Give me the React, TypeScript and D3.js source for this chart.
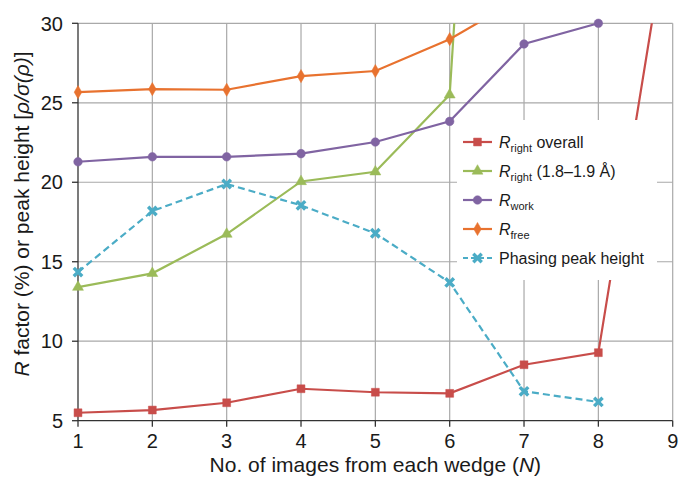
import { useEffect, useRef } from 'react'
import * as d3 from 'd3'

// N values (images per wedge)
const nValues = [1, 2, 3, 4, 5, 6, 7, 8, 9]
const xTicks = [1, 2, 3, 4, 5, 6, 7, 8, 9]
const yTicks = [5, 10, 15, 20, 25, 30]

// series values (points past the top run off the chart)
const rRightOverall = [5.5, 5.67, 6.13, 7.01, 6.79, 6.72, 8.52, 9.28, 38.1]
const rRightShell = [13.4, 14.27, 16.74, 20.05, 20.66, 25.5, 99]
const rWork = [21.29, 21.6, 21.6, 21.8, 22.53, 23.83, 28.7, 30.0]
const rFree = [25.67, 25.86, 25.82, 26.68, 27.0, 29.0, 31.7]
const phasingPeak = [14.35, 18.19, 19.89, 18.55, 16.79, 13.7, 6.85, 6.18]

const FONT = '"Liberation Sans", Arial, sans-serif'

export default function App() {
  const svgRef = useRef<SVGSVGElement>(null)

  useEffect(() => {
    if (!svgRef.current) return
    const svg = d3.select(svgRef.current)
    svg.selectAll('*').remove()

    const W = 679
    const H = 480
    const margin = { top: 23.3, right: 6.3, bottom: 59.3, left: 78 }

    svg.attr('width', W).attr('height', H).style('font-family', FONT)

    const x = d3.scaleLinear().domain([1, 9]).range([margin.left, W - margin.right])
    const y = d3.scaleLinear().domain([5, 30]).range([H - margin.bottom, margin.top])

    const series = [
      { key: 'overall', values: rRightOverall, color: '#c84d4a', symbol: d3.symbolSquare, size: 62, dash: null, stroke: false },
      { key: 'shell', values: rRightShell, color: '#9bbb59', symbol: d3.symbolTriangle, size: 52, dash: null, stroke: false },
      { key: 'work', values: rWork, color: '#8064a2', symbol: d3.symbolCircle, size: 58, dash: null, stroke: false },
      { key: 'free', values: rFree, color: '#e8722f', symbol: d3.symbolDiamond, size: 50, dash: null, stroke: false },
      { key: 'peak', values: phasingPeak, color: '#4bacc6', symbol: d3.symbolTimes, size: 48, dash: '7,4', stroke: true },
    ]

    // clip for lines
    svg.append('defs').append('clipPath').attr('id', 'plot-clip')
      .append('rect')
      .attr('x', margin.left)
      .attr('y', margin.top)
      .attr('width', W - margin.left - margin.right)
      .attr('height', H - margin.top - margin.bottom)

    // gridlines
    const grid = svg.append('g')
    grid.selectAll('.vgrid')
      .data(xTicks.slice(1))
      .enter()
      .append('line')
      .attr('x1', d => x(d))
      .attr('x2', d => x(d))
      .attr('y1', y(5))
      .attr('y2', y(30))
      .attr('stroke', '#a9a9a9')
      .attr('stroke-width', 1.2)
    grid.selectAll('.hgrid')
      .data(yTicks.slice(1))
      .enter()
      .append('line')
      .attr('x1', x(1))
      .attr('x2', x(9))
      .attr('y1', d => y(d))
      .attr('y2', d => y(d))
      .attr('stroke', '#a9a9a9')
      .attr('stroke-width', 1.2)

    // axes
    const axisColor = '#333'
    svg.append('line')
      .attr('x1', x(1)).attr('x2', x(1))
      .attr('y1', y(5)).attr('y2', y(30))
      .attr('stroke', axisColor).attr('stroke-width', 1.3)
    svg.append('line')
      .attr('x1', x(1)).attr('x2', x(9))
      .attr('y1', y(5)).attr('y2', y(5))
      .attr('stroke', axisColor).attr('stroke-width', 1.3)

    svg.selectAll('.ytick')
      .data(yTicks)
      .enter()
      .append('line')
      .attr('x1', x(1) - 6)
      .attr('x2', x(1))
      .attr('y1', d => y(d))
      .attr('y2', d => y(d))
      .attr('stroke', axisColor)
      .attr('stroke-width', 1.3)
    svg.selectAll('.xtick')
      .data(xTicks)
      .enter()
      .append('line')
      .attr('x1', d => x(d))
      .attr('x2', d => x(d))
      .attr('y1', y(5))
      .attr('y2', y(5) + 6)
      .attr('stroke', axisColor)
      .attr('stroke-width', 1.3)

    svg.selectAll('.ylabel')
      .data(yTicks)
      .enter()
      .append('text')
      .attr('x', x(1) - 15)
      .attr('y', d => y(d))
      .attr('dy', '0.36em')
      .attr('text-anchor', 'end')
      .style('font-size', '20px')
      .style('fill', '#1a1a1a')
      .text(d => d)
    svg.selectAll('.xlabel')
      .data(xTicks)
      .enter()
      .append('text')
      .attr('x', d => x(d))
      .attr('y', y(5) + 27)
      .attr('text-anchor', 'middle')
      .style('font-size', '20px')
      .style('fill', '#1a1a1a')
      .text(d => d)

    // axis titles
    const xTitle = svg.append('text')
      .attr('x', (x(1) + x(9)) / 2)
      .attr('y', 472)
      .attr('text-anchor', 'middle')
      .style('font-size', '21px')
      .style('fill', '#1a1a1a')
    xTitle.append('tspan').text('No. of images from each wedge (')
    xTitle.append('tspan').style('font-style', 'italic').text('N')
    xTitle.append('tspan').text(')')

    const yTitle = svg.append('text')
      .attr('transform', 'translate(29,214) rotate(-90)')
      .attr('text-anchor', 'middle')
      .style('font-size', '21px')
      .style('fill', '#1a1a1a')
    yTitle.append('tspan').style('font-style', 'italic').text('R')
    yTitle.append('tspan').text(' factor (%) or peak height [')
    yTitle.append('tspan').style('font-style', 'italic').text('ρ/σ(ρ)')
    yTitle.append('tspan').text(']')

    // lines
    const lineGen = d3.line<number>()
      .x((d, i) => x(nValues[i]))
      .y(d => y(d))

    const lines = svg.append('g').attr('clip-path', 'url(#plot-clip)')
    series.forEach(s => {
      lines.append('path')
        .datum(s.values)
        .attr('d', lineGen)
        .attr('fill', 'none')
        .attr('stroke', s.color)
        .attr('stroke-width', 2.2)
        .attr('stroke-dasharray', s.dash)
    })

    // markers (only points inside the y range)
    series.forEach(s => {
      const pts = s.values
        .map((v, i) => ({ n: nValues[i], v }))
        .filter(p => p.v >= 5 && p.v <= 30.05)
      svg.append('g')
        .selectAll('path')
        .data(pts)
        .enter()
        .append('path')
        .attr('transform', d => `translate(${x(d.n)},${y(d.v)})`)
        .attr('d', d3.symbol().type(s.symbol).size(s.size)())
        .attr('fill', s.stroke ? 'none' : s.color)
        .attr('stroke', s.color)
        .attr('stroke-width', s.stroke ? 3.4 : 0.5)
    })

    // legend
    const legend = svg.append('g')
    legend.append('rect')
      .attr('x', 457)
      .attr('y', 120)
      .attr('width', 200)
      .attr('height', 160)
      .attr('fill', '#fff')

    const legendItems = [
      { main: 'R', sub: 'right', rest: ' overall' },
      { main: 'R', sub: 'right', rest: ' (1.8–1.9 Å)' },
      { main: 'R', sub: 'work', rest: '' },
      { main: 'R', sub: 'free', rest: '' },
      { main: '', sub: '', rest: 'Phasing peak height' },
    ]
    legendItems.forEach((item, i) => {
      const s = series[i]
      const row = legend.append('g').attr('transform', `translate(0, ${142 + i * 29})`)
      row.append('line')
        .attr('x1', 463)
        .attr('x2', 492)
        .attr('y1', 0)
        .attr('y2', 0)
        .attr('stroke', s.color)
        .attr('stroke-width', 2.2)
        .attr('stroke-dasharray', s.dash ? '5,3' : null)
      row.append('path')
        .attr('transform', 'translate(477.5,0)')
        .attr('d', d3.symbol().type(s.symbol).size(s.size)())
        .attr('fill', s.stroke ? 'none' : s.color)
        .attr('stroke', s.color)
        .attr('stroke-width', s.stroke ? 3.4 : 0.5)
      const t = row.append('text')
        .attr('x', 499)
        .attr('y', 0)
        .attr('dy', '0.35em')
        .style('font-size', '16px')
        .style('fill', '#1a1a1a')
      if (item.main) {
        t.append('tspan').style('font-style', 'italic').text(item.main)
        t.append('tspan').attr('dy', 4).style('font-size', '11px').text(item.sub)
        if (item.rest) t.append('tspan').attr('dy', -4).text(item.rest)
      } else {
        t.append('tspan').text(item.rest)
      }
    })
  }, [])

  return (
    <svg ref={svgRef} style={{ position: 'absolute', left: 0, top: 0 }}></svg>
  )
}
